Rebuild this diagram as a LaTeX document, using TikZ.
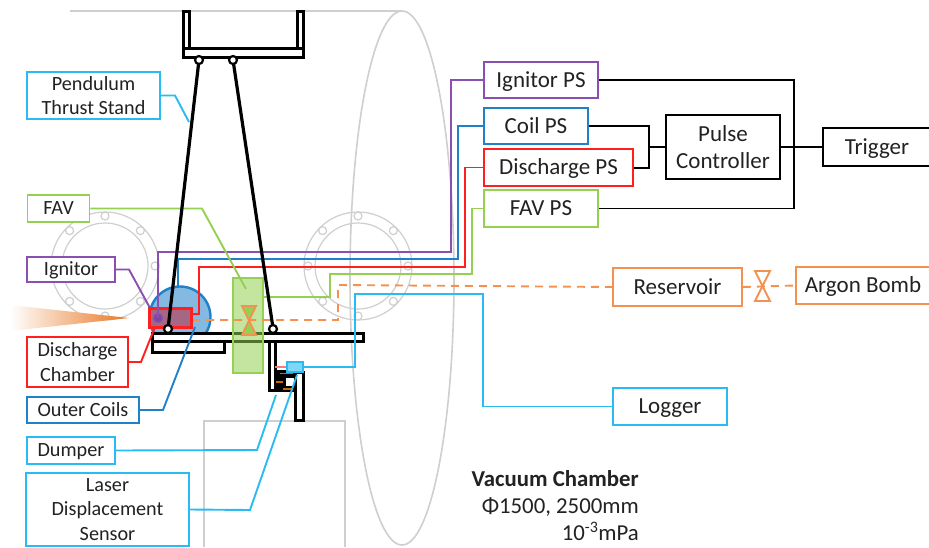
\documentclass[tikz,border=0pt]{standalone}
\usepackage{fontspec}
\setmainfont{Carlito}
\definecolor{cy}{HTML}{2ABBF2}
\definecolor{gr}{HTML}{94D152}
\definecolor{pu}{HTML}{8A4FB0}
\definecolor{bl}{HTML}{2080C8}
\definecolor{rd}{HTML}{FF1F1F}
\definecolor{og}{HTML}{F39250}
\definecolor{lg}{HTML}{CFCFCF}
\definecolor{tx}{HTML}{222222}
\definecolor{plume}{HTML}{E87722}
\tikzset{
  bx/.style={draw,line width=1.9pt,fill=white,inner sep=0pt,align=center,text=tx,font=\fontsize{23}{27.5}\selectfont},
  lbx/.style={bx,font=\fontsize{20.2}{24.5}\selectfont},
  one/.style={text height=14pt,text depth=0pt},
  lone/.style={text height=12.6pt,text depth=0pt},
  wire/.style={line width=1.9pt},
  frameb/.style={draw=black,fill=white,line width=3pt},
  flange/.style={draw=lg,line width=1.2pt},
  pivot/.style={draw=black,fill=white,line width=2.2pt},
  rod/.style={draw=black,line width=3.2pt},
  odash/.style={og,line width=1.9pt,dash pattern=on 8pt off 6pt},
}
\begin{document}
\begin{tikzpicture}[x=1pt,y=-1pt]
\useasboundingbox (0,0) rectangle (929,547);
\clip (0,0) rectangle (929,547);
\fill[white] (0,0) rectangle (929,547);
% chamber
\draw[lg,line width=1.6pt] (70,11) -- (402,11);
\draw[lg,line width=1.6pt] (402,278) ellipse [x radius=52,y radius=267];
\foreach \cx/\cy in {105/266,358/266}{
  \draw[flange] (\cx,\cy) circle (54pt);
  \draw[flange] (\cx,\cy) circle (43pt);
  \foreach \a in {0,45,...,315}
    \draw[flange,fill=white] ({\cx+50*cos(\a)},{\cy+50*sin(\a)}) circle (4pt);
}
\draw[lg,line width=1.6pt] (204,547) -- (204,421) -- (345,421) -- (345,547);
% plume
\shade[left color=white,right color=plume] (10,305) -- (129,318) -- (10,331) -- cycle;
% coil circle
\draw[bl,fill=bl!55!white,line width=2.4pt] (180,317) circle (30.5pt);
% structure
\draw[frameb] (183,11) rectangle (189,57);
\draw[frameb] (297,11) rectangle (303,57);
\draw[frameb] (183,48) rectangle (303,57);
\draw[frameb] (152,341) rectangle (224,352);
\draw[frameb] (269,341) rectangle (275,390);
\fill[black] (275,370) rectangle (295,392);
\fill[white] (286,378) rectangle (295,386);
\draw[frameb] (152,333) rectangle (363,341);
\draw[frameb] (295,372) rectangle (303,420);
\draw[black!20!orange,line width=1.2pt] (280,373.5) -- (293,373.5) (276,382) -- (283,382) (283,389) -- (293,389);
\draw[rd!60!white,line width=1.9pt] (275,367) -- (287,367);
% coordinates on the parts
\coordinate (ign) at (158,318);
\coordinate (coil) at (178,287);
\coordinate (dis) at (192,314);
\coordinate (disb) at (155,327);
\coordinate (coilb) at (195,327);
\coordinate (fav) at (263,297);
\coordinate (favin) at (246,289);
\coordinate (sen) at (303,367);
\coordinate (dmp) at (276,395);
\coordinate (las) at (297,375);
\coordinate (pts) at (189,122);
\coordinate (igt) at (150,308);
% boxes
\node[lbx,draw=cy,minimum width=133pt,minimum height=47pt] (pendulum) at (93.5,95.5) {Pendulum\\Thrust Stand};
\node[lbx,lone,draw=gr,minimum width=62pt,minimum height=27pt] (favl) at (58.5,208.5) {FAV};
\node[lbx,lone,draw=pu,minimum width=88pt,minimum height=25pt] (ignl) at (71,269.5) {Ignitor};
\node[lbx,draw=rd,minimum width=101pt,minimum height=50pt] (disl) at (77.5,362) {Discharge\\Chamber};
\node[lbx,lone,draw=bl,minimum width=112pt,minimum height=26pt] (coill) at (83,410) {Outer Coils};
\node[lbx,lone,draw=cy,minimum width=88pt,minimum height=27pt] (dumper) at (71,450.5) {Dumper};
\node[lbx,draw=cy,minimum width=163pt,minimum height=73pt] (laser) at (107.5,509.5) {Laser\\Displacement\\Sensor};
\node[bx,one,draw=pu,minimum width=114pt,minimum height=36pt] (ignps) at (541,80) {Ignitor PS};
\node[bx,one,draw=bl,minimum width=104pt,minimum height=36pt] (coilps) at (536,126) {Coil PS};
\node[bx,one,draw=rd,minimum width=149pt,minimum height=37pt] (disps) at (558.5,167.5) {Discharge PS};
\node[bx,one,draw=gr,minimum width=114pt,minimum height=37pt] (favps) at (541,208.5) {FAV PS};
\node[bx,draw=black,minimum width=114pt,minimum height=64pt] (pulse) at (723,147) {Pulse\\Controller};
\node[bx,one,draw=black,minimum width=108pt,minimum height=38pt] (trigger) at (877,147) {Trigger};
\node[bx,one,draw=og,minimum width=129pt,minimum height=38pt] (res) at (677.5,287) {Reservoir};
\node[bx,one,draw=og,minimum width=134pt,minimum height=37pt] (argon) at (863,285.5) {Argon Bomb};
\node[bx,one,draw=cy,minimum width=114pt,minimum height=37pt] (logger) at (670,406.5) {Logger};
% FAV block
\draw[gr,fill=gr,fill opacity=.55,line width=2.6pt] (233,278) rectangle (263,373);
% wires
\draw[wire,pu] (ign) -- (158,252) -- (451,252) -- (451,80) -- (ignps.west);
\draw[wire,bl] (coil) -- (178,259) -- (458,259) -- (458,126) -- (coilps.west);
\draw[wire,rd] (dis) -- (199,314) -- (199,267) -- (465,267) -- (465,167.5) -- (disps.west);
\draw[wire,gr] (fav) -- (330,297) -- (330,274) -- (472,274) -- (472,208.5) -- (favps.west);
\draw[wire,cy] (sen) -- (355,367) -- (355,294) -- (483,294) -- (483,406.5) -- (logger.west);
\draw[odash] (192,320) -- (338,320) -- (338,285) -- (res.west);
\draw[odash] (res.east) -- (argon.west);
% black wiring
\draw[wire,black] (ignps.east) -- (794,80) -- (794,208.5) -- (favps.east);
\draw[wire,black] (coilps.east) -- (649,126) -- (649,168) -- (disps.east|-0,168);
\draw[wire,black] (649,147) -- (pulse.west);
\draw[wire,black] (pulse.east) -- (trigger.west);
% leaders
\draw[wire,cy] (pendulum.east) -- (175,95.5) -- (pts);
\draw[wire,gr] (favl.east) -- (202,208.5) -- (favin);
\draw[wire,pu] (ignl.east) -- (129,269.5) -- (igt);
\draw[wire,rd] (disl.east) -- (141,362) -- (disb);
\draw[wire,bl] (coill.east) -- (163,410) -- (coilb);
\draw[wire,cy] (dumper.east) -- (257,450) -- (dmp);
\draw[wire,cy] (laser.east) -- (250,510) -- (las);
% discharge chamber
\draw[rd,fill=white!25!rd!60!bl,line width=3pt] (149.5,308.5) rectangle (191.5,327);
\draw[pu,fill=pu!90!black,line width=1pt] (ign) circle (4.5pt);
\draw[wire,pu] (ign) -- (158,300);
% rods
\draw[rod] (199,60) -- (168,329);
\draw[rod] (233,60) -- (273,328);
\draw[pivot] (199,60) circle (4pt);
\draw[pivot] (233,60) circle (4pt);
\draw[pivot] (168,329) circle (4pt);
\draw[pivot] (273,329) circle (4pt);
% valves
\draw[og,fill=gr,line width=1.9pt] (242,306) -- (256,306) -- (242,335) -- (256,335) -- cycle;
\draw[og,fill=white,line width=1.9pt] (755,271) -- (770,271) -- (755,301) -- (770,301) -- cycle;
% sensor
\draw[cy,fill=cy!60!white,line width=1.9pt] (287,362) rectangle (303,372);
% text
\node[anchor=base east,inner sep=0pt,text=tx,font=\fontsize{22.8}{24}\selectfont\bfseries] (vc) at (639,486) {Vacuum Chamber};
\node[anchor=base east,inner sep=0pt,text=tx,font=\fontsize{22.8}{24}\selectfont] (vd) at (639,513) {Φ1500, 2500mm};
\node[anchor=base east,inner sep=0pt,text=tx,font=\fontsize{22.8}{24}\selectfont] (vp) at (639,540) {10\textsuperscript{-3}mPa};
\end{tikzpicture}
\end{document}
